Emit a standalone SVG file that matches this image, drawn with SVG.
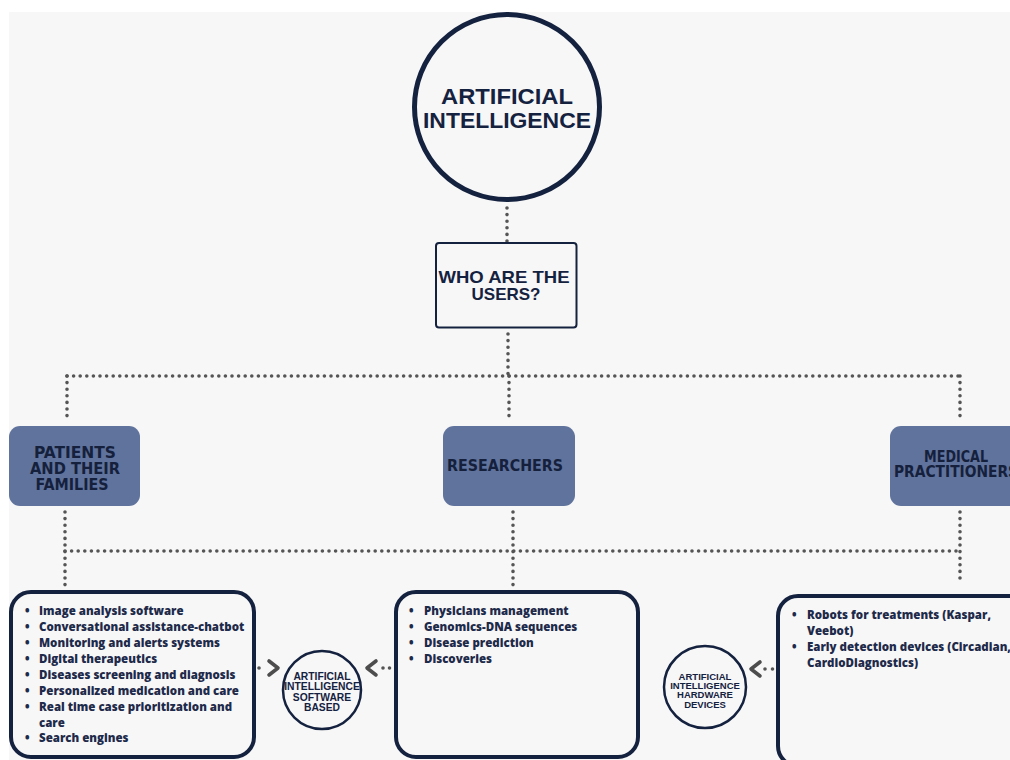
<svg xmlns="http://www.w3.org/2000/svg" width="1010" height="760" viewBox="0 0 1010 760">
<style>
.dot{fill:none;stroke:#555;stroke-width:3.6;stroke-linecap:round;stroke-dasharray:0 6.6}
.chev{fill:none;stroke:#4d4d4d;stroke-width:3.6;stroke-linecap:round;stroke-linejoin:round}
.navy{fill:none;stroke:#15223f}
.role{fill:#60739c}
.rt{font-family:"DejaVu Sans Condensed","Liberation Sans Narrow",sans-serif;font-weight:bold;font-size:15px;fill:#15213c;text-anchor:middle}
.big{font-family:"Liberation Sans","Arial",sans-serif;font-weight:bold;fill:#15223f;text-anchor:middle}
.li{font-family:"Open Sans","Noto Sans",sans-serif;font-weight:800;font-size:11.5px;fill:#1e2a4a}
.sm{font-family:"Liberation Sans",Arial,sans-serif;font-weight:bold;fill:#15223f;text-anchor:middle}
</style>
<rect x="0" y="0" width="1010" height="760" fill="#ffffff"/>
<rect x="9" y="12" width="1001" height="748" fill="#f7f7f7"/>
<g id="connectors">
<line class="dot" x1="507" y1="208" x2="507" y2="241"/>
<line class="dot" x1="508" y1="334" x2="508" y2="376"/>
<line class="dot" x1="67" y1="376" x2="960" y2="376"/>
<line class="dot" x1="67" y1="376" x2="67" y2="422"/>
<line class="dot" x1="509" y1="376" x2="509" y2="422"/>
<line class="dot" x1="960" y1="376" x2="960" y2="422"/>
<line class="dot" x1="65" y1="512" x2="65" y2="586"/>
<line class="dot" x1="513" y1="512" x2="513" y2="586"/>
<line class="dot" x1="960" y1="512" x2="960" y2="584"/>
<line class="dot" x1="65" y1="551" x2="960" y2="551"/>
<line class="dot" x1="259" y1="668" x2="264" y2="668" style="stroke-dasharray:0 5.5"/>
<polyline class="chev" points="269,661 278,668 269,675"/>
<line class="dot" x1="383" y1="668" x2="390" y2="668" style="stroke-dasharray:0 6.5"/>
<polyline class="chev" points="376,661 367,668 376,675"/>
<line class="dot" x1="765" y1="669" x2="773" y2="669" style="stroke-dasharray:0 7.5"/>
<polyline class="chev" points="760,662 751,669 760,676"/>
</g>
<g id="ai">
<circle class="navy" cx="507" cy="107" r="92.5" stroke-width="5"/>
<text class="big" x="507" y="104" font-size="22.5" textLength="132" lengthAdjust="spacingAndGlyphs">ARTIFICIAL</text>
<text class="big" x="507" y="128" font-size="22.5" textLength="168" lengthAdjust="spacingAndGlyphs">INTELLIGENCE</text>
</g>
<g id="users">
<rect class="navy" x="436" y="243" width="140.5" height="84.5" rx="3" stroke-width="2"/>
<text class="big" x="504" y="283" font-size="17" textLength="131" lengthAdjust="spacingAndGlyphs">WHO ARE THE</text>
<text class="big" x="506" y="300" font-size="17">USERS?</text>
</g>
<g id="patients">
<rect class="role" x="9" y="426" width="131" height="80" rx="11"/>
<text class="rt" x="75" y="458" textLength="82" lengthAdjust="spacingAndGlyphs">PATIENTS</text>
<text class="rt" x="75" y="474" textLength="90" lengthAdjust="spacingAndGlyphs">AND THEIR</text>
<text class="rt" x="72" y="490" textLength="73" lengthAdjust="spacingAndGlyphs">FAMILIES</text>
</g>
<g id="researchers">
<rect class="role" x="443" y="426" width="132" height="80" rx="11"/>
<text class="rt" x="505" y="471" textLength="116" lengthAdjust="spacingAndGlyphs">RESEARCHERS</text>
</g>
<g id="medical">
<rect class="role" x="890" y="426" width="140" height="80" rx="11"/>
<text class="rt" x="956" y="462" font-size="13.5" textLength="64" lengthAdjust="spacingAndGlyphs">MEDICAL</text>
<text class="rt" x="956" y="477" font-size="13.5" textLength="124" lengthAdjust="spacingAndGlyphs">PRACTITIONERS</text>
</g>
<g id="patients-list">
<rect class="navy" x="11" y="592" width="243" height="165" rx="20" stroke-width="4"/>
<g class="li">
<text x="25" y="615">•</text><text x="39" y="615">Image analysis software</text>
<text x="25" y="631">•</text><text x="39" y="631">Conversational assistance-chatbot</text>
<text x="25" y="647">•</text><text x="39" y="647">Monitoring and alerts systems</text>
<text x="25" y="663">•</text><text x="39" y="663">Digital therapeutics</text>
<text x="25" y="679">•</text><text x="39" y="679">Diseases screening and diagnosis</text>
<text x="25" y="695">•</text><text x="39" y="695">Personalized medication and care</text>
<text x="25" y="711">•</text><text x="39" y="711">Real time case prioritization and</text>
<text x="39" y="727">care</text>
<text x="25" y="742">•</text><text x="39" y="742">Search engines</text>
</g>
</g>
<g id="software">
<circle class="navy" cx="322" cy="690" r="39" stroke-width="2.5"/>
<text class="sm" x="322" y="680" font-size="10.3">ARTIFICIAL</text>
<text class="sm" x="322" y="690" font-size="10.3">INTELLIGENCE</text>
<text class="sm" x="322" y="700.5" font-size="10.3">SOFTWARE</text>
<text class="sm" x="322" y="711" font-size="10.3">BASED</text>
</g>
<g id="researchers-list">
<rect class="navy" x="396" y="592" width="242" height="165" rx="20" stroke-width="4"/>
<g class="li">
<text x="409" y="615">•</text><text x="424" y="615">Physicians management</text>
<text x="409" y="631">•</text><text x="424" y="631">Genomics-DNA sequences</text>
<text x="409" y="647">•</text><text x="424" y="647">Disease prediction</text>
<text x="409" y="663">•</text><text x="424" y="663">Discoveries</text>
</g>
</g>
<g id="hardware">
<circle class="navy" cx="705" cy="687" r="41" stroke-width="2.5"/>
<text class="sm" x="705" y="680" font-size="9.5">ARTIFICIAL</text>
<text class="sm" x="705" y="689" font-size="9.5">INTELLIGENCE</text>
<text class="sm" x="705" y="698" font-size="9.5">HARDWARE</text>
<text class="sm" x="705" y="707.5" font-size="9.5">DEVICES</text>
</g>
<g id="medical-list">
<rect class="navy" x="778" y="596" width="250" height="170" rx="20" stroke-width="4"/>
<g class="li">
<text x="792" y="619">•</text><text x="807" y="619">Robots for treatments (Kaspar,</text>
<text x="807" y="635">Veebot)</text>
<text x="792" y="651">•</text><text x="807" y="651">Early detection devices (Circadian,</text>
<text x="807" y="667">CardioDiagnostics)</text>
</g>
</g>
</svg>
